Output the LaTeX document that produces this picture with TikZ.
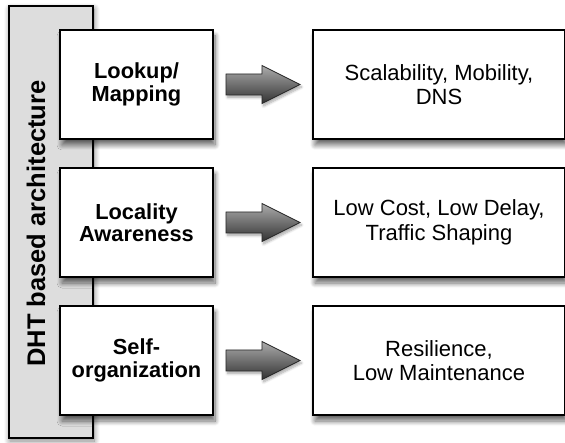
\documentclass[tikz,border=0pt]{standalone}
\usepackage{fontspec}
\setmainfont{Liberation Sans}
\usetikzlibrary{shadows.blur}
\definecolor{barfill}{RGB}{221,221,221}
\definecolor{arrowtop}{RGB}{172,172,172}
\definecolor{arrowbot}{RGB}{50,50,50}
\begin{document}
\begin{tikzpicture}[x=1pt,y=-1pt,
  softshadow/.style={blur shadow={shadow xshift=2pt,shadow yshift=-6pt,
      shadow blur radius=5pt,shadow blur steps=10,shadow opacity=60}},
  barbox/.style={draw=black,line width=1.3pt,fill=barfill,
      minimum width=84pt,minimum height=432pt,inner sep=0pt,
      blur shadow={shadow xshift=1pt,shadow yshift=-3pt,
      shadow blur radius=6pt,shadow blur steps=10,shadow opacity=50}},
  topic/.style={draw=black,line width=1.3pt,fill=white,
      minimum width=153pt,minimum height=109pt,inner sep=0pt,align=center,
      font=\fontsize{21.8}{22.5}\selectfont\bfseries,softshadow},
  effect/.style={draw=black,line width=1.3pt,fill=white,
      minimum width=252pt,minimum height=109pt,inner sep=0pt,align=center,
      font=\fontsize{22}{24.5}\selectfont,softshadow},
  blockarrow/.style={draw=black!85,line width=0.8pt,
      top color=arrowtop,bottom color=arrowbot,
      blur shadow={shadow xshift=1.5pt,shadow yshift=-2.5pt,
      shadow blur radius=2.5pt,shadow blur steps=6,shadow opacity=35}}]
\useasboundingbox (0,0) rectangle (565,443);

% architecture bar with its rotated title
\node[barbox] (bar) at (51,222) {};
\node[rotate=90,anchor=base,font=\fontsize{25.5}{30}\selectfont\bfseries]
  (title) at (45,223.5) {DHT based architecture};

% design aspects (left) and their benefits (right)
\node[topic] (l1) at (136.5,84.5)  {Lookup/\\Mapping};
\node[topic] (l2) at (136.5,222.5) {Locality\\Awareness};
\node[topic] (l3) at (136.5,360.5) {Self-\\organization};

\node[effect] (r1) at (439,84.5)  {Scalability, Mobility,\\DNS};
\node[effect] (r2) at (439,222.5) {Low Cost, Low Delay,\\Traffic Shaping};
\node[effect] (r3) at (439,360.5) {Resilience,\\Low Maintenance};

% shaded block arrows between each pair
\foreach \yc in {84.5,222.5,360.5}{
  \draw[blockarrow] (226,\yc-10.5) -- (262,\yc-10.5) -- (262,\yc-19)
    -- (300,\yc) -- (262,\yc+19) -- (262,\yc+10.5) -- (226,\yc+10.5) -- cycle;
}
\end{tikzpicture}
\end{document}
